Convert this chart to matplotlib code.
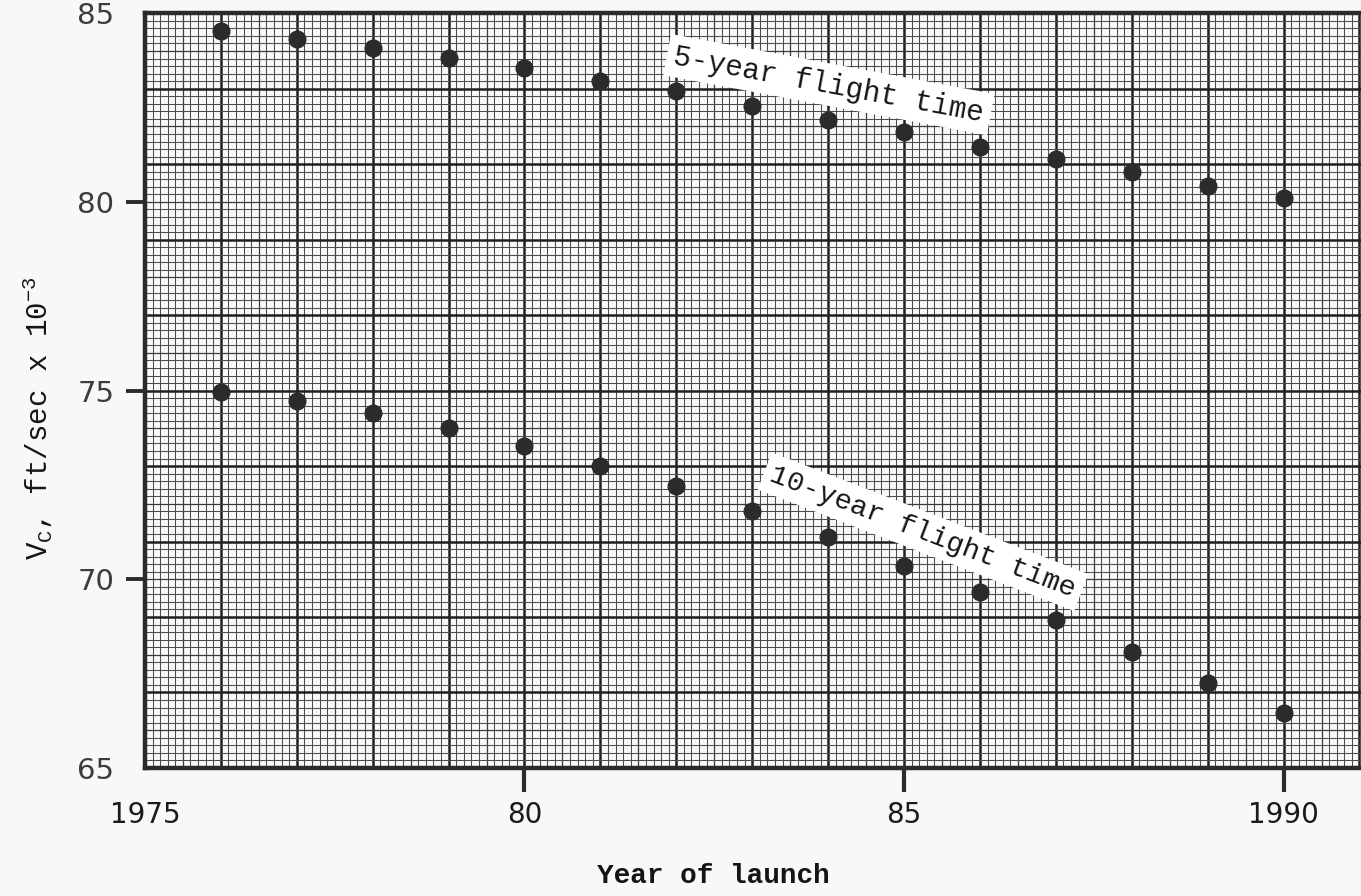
import numpy as np
import matplotlib
matplotlib.use("Agg")
import matplotlib.pyplot as plt

# Launch years and required velocity (thousands of ft/sec)
years = [1976, 1977, 1978, 1979, 1980, 1981, 1982, 1983,
         1984, 1985, 1986, 1987, 1988, 1989, 1990]
vc_5yr = [84.52, 84.31, 84.07, 83.82, 83.55, 83.21, 82.94, 82.54,
          82.17, 81.86, 81.46, 81.14, 80.79, 80.41, 80.10]
vc_10yr = [74.97, 74.73, 74.41, 74.01, 73.54, 73.01, 72.48, 71.80,
           71.12, 70.36, 69.66, 68.92, 68.06, 67.25, 66.45]

xtick_pos = [1975, 1980, 1985, 1990]
xtick_lab = ["1975", "80", "85", "1990"]
ytick_pos = [65, 70, 75, 80, 85]
ytick_lab = ["65", "70", "75", "80", "85"]

paper = "#f8f8f6"
ink = "#2b2b2b"
mono = "Liberation Mono"

plt.rcParams["mathtext.fontset"] = "custom"
plt.rcParams["mathtext.rm"] = mono

fig = plt.figure(figsize=(13.61, 8.96), dpi=100, facecolor=paper)
ax = fig.add_axes([0.1065, 0.1429, 0.8935, 0.8423])
ax.set_facecolor(paper)

ax.set_xlim(1975, 1991.02)
ax.set_ylim(65, 85)

# graph paper: 10 divisions per year, 10 divisions per 2 units
def paper_style(k):
    if k % 10 == 0:
        return 1.8, "#202020"
    if k % 5 == 0:
        return 0.9, "#3a3a3a"
    return 0.75, "#4c4c4c"

for k, xv in enumerate(np.arange(1975, 1991.05, 0.1)):
    lw, c = paper_style(k)
    ax.axvline(xv, lw=lw, color=c, zorder=1)

for k, yv in enumerate(np.arange(65, 85.01, 0.2)):
    lw, c = paper_style(k)
    ax.axhline(yv, lw=lw, color=c, zorder=1)

ax.plot(years, vc_5yr, "o", ms=12, color=ink, mec=ink, zorder=3)
ax.plot(years, vc_10yr, "o", ms=12, color=ink, mec=ink, zorder=3)

for side in ["left", "bottom", "top"]:
    ax.spines[side].set_linewidth(3.2)
    ax.spines[side].set_color(ink)
    ax.spines[side].set_zorder(4)
ax.spines["right"].set_visible(False)

# labels on major ticks, marks only on inner ones
ax.yaxis.remove_overlapping_locs = False
ax.set_xticks(xtick_pos)
ax.set_xticklabels(xtick_lab, fontsize=20, fontfamily="DejaVu Sans", color="#1a1a1a")
ax.set_yticks(ytick_pos)
ax.set_yticklabels(ytick_lab, fontsize=21, fontfamily="DejaVu Sans", color="#3c3c3c")
ax.set_yticks([70, 75, 80], minor=True)
ax.tick_params(axis="x", which="both", length=0, pad=24)
ax.tick_params(axis="y", which="major", length=0, pad=22)
ax.tick_params(axis="y", which="minor", direction="out", length=14, width=2.8, color=ink)

# short marks under the x axis
ax.plot([1980, 1980], [64.35, 65], color=ink, lw=3, clip_on=False, zorder=10,
        solid_capstyle="butt")
ax.plot([1985, 1985], [64.35, 65], color=ink, lw=3, clip_on=False, zorder=10,
        solid_capstyle="butt")
ax.plot([1990, 1990], [64.35, 65], color=ink, lw=3, clip_on=False, zorder=10,
        solid_capstyle="butt")
ax.set_ylim(65, 85)

box = dict(facecolor="white", edgecolor="none", pad=5)
ax.text(1984.01, 83.11, "5-year flight time", fontsize=21, family=mono,
        rotation=-10.5, ha="center", va="center", color="#151515",
        bbox=box, zorder=5, rotation_mode="anchor")
ax.text(1985.25, 71.26, "10-year flight time", fontsize=20.5, family=mono,
        rotation=-21, ha="center", va="center", color="#151515",
        bbox=box, zorder=5, rotation_mode="anchor")

fig.text(713 / 1361, 1 - 876 / 896, "Year of launch", fontsize=20,
         family=mono, fontweight="bold", ha="center", va="center",
         color="#151515")
fig.text(38 / 1361, 1 - 418 / 896,
         r"V$_{\mathrm{C}}$, ft/sec x 10$^{\mathrm{-3}}$", fontsize=21,
         family=mono, rotation=90, ha="center", va="center", color="#151515")

fig.savefig("out.png", dpi=100, facecolor=paper)
